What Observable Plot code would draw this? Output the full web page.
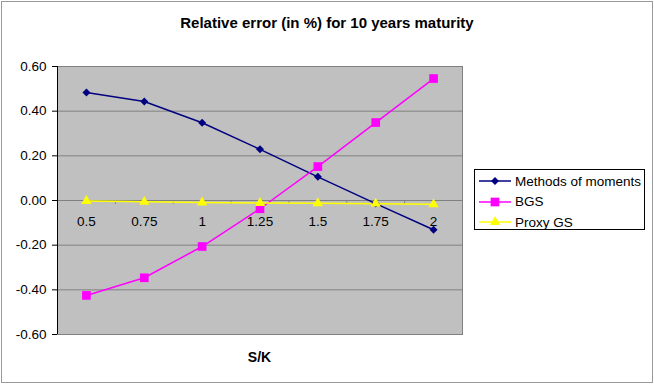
<!DOCTYPE html>
<html>
<head>
<meta charset="utf-8">
<script src="https://cdn.jsdelivr.net/npm/d3@7"></script>
<script src="https://cdn.jsdelivr.net/npm/@observablehq/plot@0.6"></script>
<style>
  html, body { margin: 0; padding: 0; background: #fff; }
  #wrap { position: relative; width: 654px; height: 384px; font-family: "Liberation Sans", Arial, sans-serif; }
  #border { position: absolute; left: 1px; top: 1px; width: 650px; height: 380px; border: 1px solid #9a9a9a; pointer-events: none; }
  #title { position: absolute; left: 0; width: 654px; top: 14px; text-align: center; font-weight: bold; font-size: 15px; line-height: 17px; color: #000; }
  #xlabel { position: absolute; left: 57px; width: 405px; top: 349px; text-align: center; font-weight: bold; font-size: 14px; line-height: 16px; color: #000; }
  #legend { position: absolute; left: 474px; top: 169px; width: 171px; height: 61px; border: 1px solid #000; background: #fff; box-sizing: border-box; }
  .item { position: absolute; left: 3px; height: 20px; display: flex; align-items: center; font-size: 13.5px; white-space: nowrap; }
  .item svg { margin-right: 3px; }
  svg.plot { position: absolute; left: 0; top: 0; }
</style>
</head>
<body>
<div id="wrap">
  <div id="title">Relative error (in %) for 10 years maturity</div>
  <div id="xlabel">S/K</div>
  <div id="legend"></div>
  <div id="border"></div>
</div>
<script>
const sk = [0.5, 0.75, 1, 1.25, 1.5, 1.75, 2];
const methodsOfMoments = [0.484, 0.443, 0.348, 0.229, 0.106, -0.014, -0.131];
const bgs = [-0.425, -0.346, -0.206, -0.037, 0.152, 0.349, 0.546];
const proxyGS = [-0.002, -0.006, -0.009, -0.011, -0.012, -0.014, -0.017];
const yTicks = [-0.6, -0.4, -0.2, 0, 0.2, 0.4, 0.6];
const seriesNames = ["Methods of moments", "BGS", "Proxy GS"];
const seriesColors = ["#000080", "#FF00FF", "#FFFF00"];
const seriesSymbols = ["diamond2", "square", "triangle"];
const seriesR = [3.6, 4.9, 3.8];

const seriesValues = [methodsOfMoments, bgs, proxyGS];
const data = seriesNames.flatMap((name, i) =>
  sk.map((x, j) => ({series: name, x, y: seriesValues[i][j]})));
const boundaries = sk.slice(0, -1).map((v, i) => (v + sk[i + 1]) / 2);

const marks = [
  Plot.frame({fill: "#C0C0C0", stroke: "#808080"}),
  Plot.ruleY(yTicks.filter(d => d !== 0 && Math.abs(d) !== 0.6), {stroke: "#808080", strokeWidth: 1}),
  Plot.ruleY([0], {stroke: "#808080", strokeWidth: 1}),
  Plot.ruleX(boundaries, {x: d => d, y1: 0, y2: -0.018, stroke: "#808080"}),
  Plot.ruleX([0.375], {stroke: "#000", strokeWidth: 1}),
  Plot.text(sk, {x: d => d, y: 0, dy: 21, text: d => String(d), fontSize: 13.5, fill: "#000"})
];
seriesNames.forEach((name, i) => {
  const d = data.filter(r => r.series === name);
  marks.push(Plot.line(d, {x: "x", y: "y", stroke: seriesColors[i], strokeWidth: 1.5}));
});
seriesNames.forEach((name, i) => {
  const d = data.filter(r => r.series === name);
  marks.push(Plot.dot(d, {x: "x", y: "y", symbol: () => seriesSymbols[i], fill: seriesColors[i], stroke: "none", r: seriesR[i]}));
});

const chart = Plot.plot({
  width: 654,
  height: 384,
  marginLeft: 57,
  marginRight: 192,
  marginTop: 66,
  marginBottom: 50,
  style: {fontFamily: "'Liberation Sans', Arial, sans-serif", fontSize: "13.5px", color: "#000", background: "transparent"},
  x: {domain: [0.375, 2.125], axis: null},
  y: {domain: [-0.6, 0.6], ticks: yTicks, tickFormat: d => d.toFixed(2), tickSize: 5, tickPadding: 6, label: null},
  symbol: {type: "identity"},
  marks
});
chart.classList.add("plot");
const wrap = document.getElementById("wrap");
wrap.insertBefore(chart, wrap.firstChild);

// legend
const legend = document.getElementById("legend");
seriesNames.forEach((name, i) => {
  const item = document.createElement("div");
  item.className = "item";
  item.style.top = (1 + i * 20.5) + "px";
  const sw = d3.create("svg").attr("width", 34).attr("height", 14);
  sw.append("line").attr("x1", 1).attr("x2", 33).attr("y1", 7).attr("y2", 7)
    .attr("stroke", seriesColors[i]).attr("stroke-width", 1.5);
  const symMap = {diamond2: d3.symbolDiamond2, square: d3.symbolSquare, triangle: d3.symbolTriangle};
  sw.append("path").attr("transform", "translate(17,7)")
    .attr("d", d3.symbol(symMap[seriesSymbols[i]], Math.PI * seriesR[i] * seriesR[i])())
    .attr("fill", seriesColors[i]);
  item.appendChild(sw.node());
  const t = document.createElement("span");
  t.textContent = name;
  item.appendChild(t);
  legend.appendChild(item);
});
</script>
</body>
</html>
